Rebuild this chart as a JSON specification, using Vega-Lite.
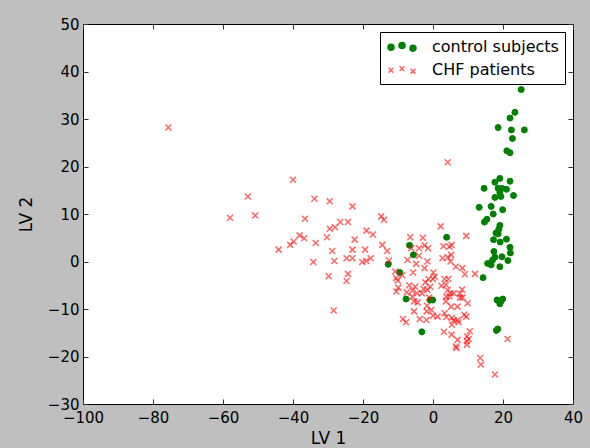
{
  "$schema": "https://vega.github.io/schema/vega-lite/v6.json",
  "width": 490,
  "height": 380,
  "autosize": {"type": "none"},
  "padding": {"left": 83, "top": 24, "right": 17, "bottom": 44},
  "background": "#bfbfbf",
  "view": {"fill": "white", "stroke": "black", "strokeWidth": 1},
  "config": {
    "view": {"fill": "white", "stroke": "black", "strokeWidth": 1},
    "font": "DejaVu Sans",
    "axis": {
      "grid": false, "domain": false, "tickSize": -5, "tickColor": "#333", "tickWidth": 1,
      "labelColor": "#000", "labelFontSize": 15, "labelFont": "DejaVu Sans",
      "titleFont": "DejaVu Sans", "titleFontSize": 17, "titleFontWeight": "normal", "titleColor": "#000",
      "labelFlush": false, "labelOverlap": false, "labelBound": false, "labelPadding": 6
    }
  },
  "data": {"values": [
    {"group":"control subjects","lv1":25.2,"lv2":36.2},{"group":"control subjects","lv1":23.4,"lv2":31.4},{"group":"control subjects","lv1":22.0,"lv2":30.2},{"group":"control subjects","lv1":18.6,"lv2":28.2},{"group":"control subjects","lv1":22.4,"lv2":27.7},{"group":"control subjects","lv1":26.1,"lv2":27.7},{"group":"control subjects","lv1":22.7,"lv2":25.9},{"group":"control subjects","lv1":21.1,"lv2":23.3},{"group":"control subjects","lv1":22.0,"lv2":22.9},{"group":"control subjects","lv1":19.1,"lv2":17.5},{"group":"control subjects","lv1":17.7,"lv2":16.7},{"group":"control subjects","lv1":22.0,"lv2":16.9},{"group":"control subjects","lv1":14.6,"lv2":15.4},{"group":"control subjects","lv1":18.6,"lv2":15.4},{"group":"control subjects","lv1":19.7,"lv2":15.4},{"group":"control subjects","lv1":21.0,"lv2":15.2},{"group":"control subjects","lv1":19.1,"lv2":14.6},{"group":"control subjects","lv1":17.7,"lv2":13.5},{"group":"control subjects","lv1":19.4,"lv2":13.7},{"group":"control subjects","lv1":23.0,"lv2":13.9},{"group":"control subjects","lv1":13.2,"lv2":11.4},{"group":"control subjects","lv1":16.6,"lv2":11.6},{"group":"control subjects","lv1":17.2,"lv2":10.0},{"group":"control subjects","lv1":19.9,"lv2":10.9},{"group":"control subjects","lv1":15.4,"lv2":8.9},{"group":"control subjects","lv1":14.7,"lv2":8.3},{"group":"control subjects","lv1":19.1,"lv2":7.6},{"group":"control subjects","lv1":18.8,"lv2":6.8},{"group":"control subjects","lv1":18.0,"lv2":6.0},{"group":"control subjects","lv1":18.6,"lv2":5.8},{"group":"control subjects","lv1":17.3,"lv2":4.6},{"group":"control subjects","lv1":19.2,"lv2":4.1},{"group":"control subjects","lv1":21.0,"lv2":4.7},{"group":"control subjects","lv1":3.9,"lv2":5.1},{"group":"control subjects","lv1":22.0,"lv2":3.0},{"group":"control subjects","lv1":22.1,"lv2":1.8},{"group":"control subjects","lv1":17.4,"lv2":2.1},{"group":"control subjects","lv1":17.7,"lv2":0.9},{"group":"control subjects","lv1":19.7,"lv2":1.0},{"group":"control subjects","lv1":17.0,"lv2":0.3},{"group":"control subjects","lv1":21.4,"lv2":0.2},{"group":"control subjects","lv1":15.6,"lv2":-0.4},{"group":"control subjects","lv1":16.6,"lv2":-0.7},{"group":"control subjects","lv1":19.1,"lv2":-1.1},{"group":"control subjects","lv1":14.3,"lv2":-3.4},{"group":"control subjects","lv1":18.3,"lv2":-8.1},{"group":"control subjects","lv1":19.4,"lv2":-8.4},{"group":"control subjects","lv1":19.9,"lv2":-7.9},{"group":"control subjects","lv1":19.1,"lv2":-8.9},{"group":"control subjects","lv1":18.1,"lv2":-14.5},{"group":"control subjects","lv1":18.5,"lv2":-14.2},{"group":"control subjects","lv1":-6.7,"lv2":3.4},{"group":"control subjects","lv1":-5.6,"lv2":1.4},{"group":"control subjects","lv1":-12.8,"lv2":-0.6},{"group":"control subjects","lv1":-9.5,"lv2":-2.3},{"group":"control subjects","lv1":-7.7,"lv2":-7.9},{"group":"control subjects","lv1":-0.8,"lv2":-8.1},{"group":"control subjects","lv1":-0.1,"lv2":-8.1},{"group":"control subjects","lv1":-3.2,"lv2":-14.8},
    {"group":"CHF patients","lv1":-75.6,"lv2":28.2},{"group":"CHF patients","lv1":-58.0,"lv2":9.2},{"group":"CHF patients","lv1":-52.9,"lv2":13.7},{"group":"CHF patients","lv1":-50.8,"lv2":9.7},{"group":"CHF patients","lv1":-44.1,"lv2":2.5},{"group":"CHF patients","lv1":-40.0,"lv2":17.2},{"group":"CHF patients","lv1":-40.8,"lv2":3.5},{"group":"CHF patients","lv1":-39.8,"lv2":4.2},{"group":"CHF patients","lv1":-38.1,"lv2":5.5},{"group":"CHF patients","lv1":-36.8,"lv2":4.9},{"group":"CHF patients","lv1":-36.6,"lv2":9.0},{"group":"CHF patients","lv1":-33.9,"lv2":13.2},{"group":"CHF patients","lv1":-33.5,"lv2":3.9},{"group":"CHF patients","lv1":-34.2,"lv2":-0.1},{"group":"CHF patients","lv1":-29.5,"lv2":12.7},{"group":"CHF patients","lv1":-30.3,"lv2":5.1},{"group":"CHF patients","lv1":-29.5,"lv2":6.9},{"group":"CHF patients","lv1":-28.0,"lv2":7.2},{"group":"CHF patients","lv1":-26.5,"lv2":8.3},{"group":"CHF patients","lv1":-24.3,"lv2":8.3},{"group":"CHF patients","lv1":-28.8,"lv2":2.2},{"group":"CHF patients","lv1":-28.2,"lv2":0.1},{"group":"CHF patients","lv1":-29.8,"lv2":-3.1},{"group":"CHF patients","lv1":-28.4,"lv2":-10.3},{"group":"CHF patients","lv1":-23.0,"lv2":11.6},{"group":"CHF patients","lv1":-22.4,"lv2":4.6},{"group":"CHF patients","lv1":-23.0,"lv2":2.5},{"group":"CHF patients","lv1":-24.7,"lv2":0.7},{"group":"CHF patients","lv1":-23.0,"lv2":0.7},{"group":"CHF patients","lv1":-24.3,"lv2":-2.6},{"group":"CHF patients","lv1":-24.7,"lv2":-4.1},{"group":"CHF patients","lv1":-19.0,"lv2":6.5},{"group":"CHF patients","lv1":-17.2,"lv2":5.7},{"group":"CHF patients","lv1":-19.4,"lv2":2.5},{"group":"CHF patients","lv1":-20.2,"lv2":-0.1},{"group":"CHF patients","lv1":-19.1,"lv2":0.1},{"group":"CHF patients","lv1":-17.8,"lv2":0.7},{"group":"CHF patients","lv1":-14.8,"lv2":9.5},{"group":"CHF patients","lv1":-14.0,"lv2":8.8},{"group":"CHF patients","lv1":-14.5,"lv2":3.5},{"group":"CHF patients","lv1":-13.1,"lv2":2.2},{"group":"CHF patients","lv1":-12.6,"lv2":0.2},{"group":"CHF patients","lv1":-10.8,"lv2":-2.1},{"group":"CHF patients","lv1":-10.5,"lv2":-3.5},{"group":"CHF patients","lv1":-10.1,"lv2":-4.0},{"group":"CHF patients","lv1":-10.5,"lv2":-6.3},{"group":"CHF patients","lv1":-9.9,"lv2":-5.5},{"group":"CHF patients","lv1":-8.8,"lv2":-2.9},{"group":"CHF patients","lv1":-8.6,"lv2":-12.1},{"group":"CHF patients","lv1":-7.7,"lv2":-12.8},{"group":"CHF patients","lv1":-7.3,"lv2":0.3},{"group":"CHF patients","lv1":-6.5,"lv2":5.1},{"group":"CHF patients","lv1":-6.2,"lv2":2.8},{"group":"CHF patients","lv1":-6.8,"lv2":-5.0},{"group":"CHF patients","lv1":-5.9,"lv2":-6.1},{"group":"CHF patients","lv1":-5.7,"lv2":-2.3},{"group":"CHF patients","lv1":-5.9,"lv2":-7.4},{"group":"CHF patients","lv1":-5.1,"lv2":-5.3},{"group":"CHF patients","lv1":-5.4,"lv2":-8.4},{"group":"CHF patients","lv1":-5.4,"lv2":-10.5},{"group":"CHF patients","lv1":-4.0,"lv2":2.8},{"group":"CHF patients","lv1":-4.0,"lv2":1.2},{"group":"CHF patients","lv1":-4.8,"lv2":-0.5},{"group":"CHF patients","lv1":-4.5,"lv2":-6.7},{"group":"CHF patients","lv1":-3.8,"lv2":-12.1},{"group":"CHF patients","lv1":-2.9,"lv2":5.0},{"group":"CHF patients","lv1":-2.4,"lv2":3.4},{"group":"CHF patients","lv1":-3.2,"lv2":-6.7},{"group":"CHF patients","lv1":-2.7,"lv2":-5.8},{"group":"CHF patients","lv1":-2.4,"lv2":-1.4},{"group":"CHF patients","lv1":-1.6,"lv2":0.0},{"group":"CHF patients","lv1":-1.9,"lv2":-12.3},{"group":"CHF patients","lv1":-1.8,"lv2":-10.5},{"group":"CHF patients","lv1":-1.4,"lv2":2.8},{"group":"CHF patients","lv1":-1.3,"lv2":-3.7},{"group":"CHF patients","lv1":-1.6,"lv2":-6.0},{"group":"CHF patients","lv1":-1.1,"lv2":-7.6},{"group":"CHF patients","lv1":-0.8,"lv2":-5.3},{"group":"CHF patients","lv1":0.0,"lv2":-3.7},{"group":"CHF patients","lv1":0.0,"lv2":-11.4},{"group":"CHF patients","lv1":-0.5,"lv2":-10.2},{"group":"CHF patients","lv1":0.5,"lv2":-3.2},{"group":"CHF patients","lv1":1.3,"lv2":-11.6},{"group":"CHF patients","lv1":2.2,"lv2":7.4},{"group":"CHF patients","lv1":2.7,"lv2":0.7},{"group":"CHF patients","lv1":2.4,"lv2":-5.1},{"group":"CHF patients","lv1":3.1,"lv2":-14.8},{"group":"CHF patients","lv1":3.3,"lv2":-3.7},{"group":"CHF patients","lv1":3.7,"lv2":-4.9},{"group":"CHF patients","lv1":4.2,"lv2":20.9},{"group":"CHF patients","lv1":4.2,"lv2":0.9},{"group":"CHF patients","lv1":4.4,"lv2":-3.7},{"group":"CHF patients","lv1":4.2,"lv2":-6.0},{"group":"CHF patients","lv1":3.8,"lv2":-7.4},{"group":"CHF patients","lv1":3.7,"lv2":-8.4},{"group":"CHF patients","lv1":3.3,"lv2":-10.9},{"group":"CHF patients","lv1":3.8,"lv2":-11.7},{"group":"CHF patients","lv1":4.7,"lv2":3.1},{"group":"CHF patients","lv1":5.3,"lv2":3.5},{"group":"CHF patients","lv1":5.2,"lv2":1.4},{"group":"CHF patients","lv1":5.0,"lv2":0.0},{"group":"CHF patients","lv1":5.0,"lv2":-6.7},{"group":"CHF patients","lv1":5.2,"lv2":-9.5},{"group":"CHF patients","lv1":5.3,"lv2":-15.4},{"group":"CHF patients","lv1":5.4,"lv2":-11.9},{"group":"CHF patients","lv1":5.4,"lv2":-13.3},{"group":"CHF patients","lv1":5.9,"lv2":-6.7},{"group":"CHF patients","lv1":5.9,"lv2":-12.4},{"group":"CHF patients","lv1":6.5,"lv2":-1.1},{"group":"CHF patients","lv1":6.5,"lv2":-17.9},{"group":"CHF patients","lv1":6.7,"lv2":-18.2},{"group":"CHF patients","lv1":7.0,"lv2":-9.5},{"group":"CHF patients","lv1":7.1,"lv2":-12.3},{"group":"CHF patients","lv1":7.3,"lv2":-12.8},{"group":"CHF patients","lv1":7.7,"lv2":-7.6},{"group":"CHF patients","lv1":7.7,"lv2":-6.8},{"group":"CHF patients","lv1":8.4,"lv2":-1.4},{"group":"CHF patients","lv1":7.0,"lv2":-16.5},{"group":"CHF patients","lv1":8.4,"lv2":-7.6},{"group":"CHF patients","lv1":8.9,"lv2":-11.2},{"group":"CHF patients","lv1":9.5,"lv2":5.4},{"group":"CHF patients","lv1":9.1,"lv2":-2.7},{"group":"CHF patients","lv1":9.5,"lv2":-11.6},{"group":"CHF patients","lv1":9.9,"lv2":-8.8},{"group":"CHF patients","lv1":9.7,"lv2":-15.8},{"group":"CHF patients","lv1":9.7,"lv2":-16.8},{"group":"CHF patients","lv1":9.7,"lv2":-17.5},{"group":"CHF patients","lv1":10.2,"lv2":-16.3},{"group":"CHF patients","lv1":10.5,"lv2":-14.7},{"group":"CHF patients","lv1":12.0,"lv2":-2.6},{"group":"CHF patients","lv1":13.5,"lv2":-20.3},{"group":"CHF patients","lv1":13.7,"lv2":-21.7},{"group":"CHF patients","lv1":17.7,"lv2":-23.8},{"group":"CHF patients","lv1":21.3,"lv2":-16.3},
    {"group":"CHF patients","lv1":3.0,"lv2":3.2},{"group":"CHF patients","lv1":-2.2,"lv2":-4.4},{"group":"CHF patients","lv1":-7.5,"lv2":-6.5},{"group":"CHF patients","lv1":4.7,"lv2":-7.3},{"group":"CHF patients","lv1":-4.4,"lv2":-8.6},{"group":"CHF patients","lv1":-1.7,"lv2":-9.3},{"group":"CHF patients","lv1":8.3,"lv2":-5.9},{"group":"CHF patients","lv1":0.1,"lv2":-2.3}
  ]},
  "layer": [
    {
      "transform": [{"filter": "datum.group === 'control subjects'"}],
      "mark": {"type": "point", "size": 36, "strokeWidth": 1, "opacity": 1},
      "encoding": {
        "x": {"field": "lv1", "type": "quantitative",
              "scale": {"domain": [-100, 40], "nice": false, "zero": false},
              "axis": {"orient": "bottom", "values": [-100, -80, -60, -40, -20, 0, 20, 40], "format": "d", "title": "LV 1", "labelPadding": 11, "titlePadding": 5}},
        "y": {"field": "lv2", "type": "quantitative",
              "scale": {"domain": [-30, 50], "nice": false, "zero": false},
              "axis": {"orient": "left", "values": [-30, -20, -10, 0, 10, 20, 30, 40, 50], "format": "d", "title": "LV 2", "labelPadding": 9, "titlePadding": 12}},
        "fill": {"field": "group", "type": "nominal",
                 "scale": {"domain": ["control subjects", "CHF patients"], "range": ["#008000", "transparent"]},
                 "legend": {
                    "title": null, "orient": "top-right", "offset": 8,
                    "strokeColor": "black", "fillColor": "white", "padding": 6, "cornerRadius": 0,
                    "labelFontSize": 16, "labelColor": "#000", "labelFont": "DejaVu Sans",
                    "symbolSize": 256, "labelOffset": 28, "rowPadding": 6, "symbolStrokeWidth": 1.5, "symbolOpacity": 1
                 }},
        "stroke": {"field": "group", "type": "nominal",
                   "scale": {"domain": ["control subjects", "CHF patients"], "range": ["#008000", "rgba(255,0,0,0.6)"]}}
      }
    },
    {
      "transform": [{"filter": "datum.group === 'CHF patients'"}],
      "mark": {"type": "point", "shape": "M-1,-1L1,1M-1,1L1,-1", "size": 36, "strokeWidth": 1.5, "opacity": 1},
      "encoding": {
        "x": {"field": "lv1", "type": "quantitative",
              "scale": {"domain": [-100, 40], "nice": false, "zero": false}, "axis": null},
        "y": {"field": "lv2", "type": "quantitative",
              "scale": {"domain": [-30, 50], "nice": false, "zero": false}, "axis": null},
        "fill": {"field": "group", "type": "nominal",
                 "scale": {"domain": ["control subjects", "CHF patients"], "range": ["#008000", "transparent"]}},
        "stroke": {"field": "group", "type": "nominal",
                   "scale": {"domain": ["control subjects", "CHF patients"], "range": ["#008000", "rgba(255,0,0,0.6)"]}}
      }
    },
    {
      "transform": [{"filter": "false"}],
      "mark": {"type": "point", "opacity": 1},
      "encoding": {
        "x": {"field": "lv1", "type": "quantitative",
              "scale": {"domain": [-100, 40], "nice": false, "zero": false}, "axis": null},
        "y": {"field": "lv2", "type": "quantitative",
              "scale": {"domain": [-30, 50], "nice": false, "zero": false}, "axis": null},
        "shape": {"field": "group", "type": "nominal",
                  "scale": {"domain": ["control subjects", "CHF patients"],
                            "range": ["M-0.125,0.03A0.375,0.375 0 1,1 -0.875,0.03A0.375,0.375 0 1,1 -0.125,0.03ZM1.25,-0.18A0.375,0.375 0 1,1 0.5,-0.18A0.375,0.375 0 1,1 1.25,-0.18ZM2.625,0.15A0.375,0.375 0 1,1 1.875,0.15A0.375,0.375 0 1,1 2.625,0.15Z",
                                      "M-0.8,-0.27L-0.2,0.33M-0.8,0.33L-0.2,-0.27M0.575,-0.48L1.175,0.12M0.575,0.12L1.175,-0.48M1.95,-0.15L2.55,0.45M1.95,0.45L2.55,-0.15"]}}
      }
    },
    {
      "mark": {"type": "point", "opacity": 0},
      "encoding": {
        "x": {"field": "lv1", "type": "quantitative",
              "scale": {"domain": [-100, 40], "nice": false, "zero": false},
              "axis": {"orient": "top", "values": [-100, -80, -60, -40, -20, 0, 20, 40], "labels": false, "title": null}},
        "y": {"field": "lv2", "type": "quantitative",
              "scale": {"domain": [-30, 50], "nice": false, "zero": false},
              "axis": {"orient": "right", "values": [-30, -20, -10, 0, 10, 20, 30, 40, 50], "labels": false, "title": null}}
      }
    }
  ],
  "resolve": {"axis": {"x": "independent", "y": "independent"}}
}
